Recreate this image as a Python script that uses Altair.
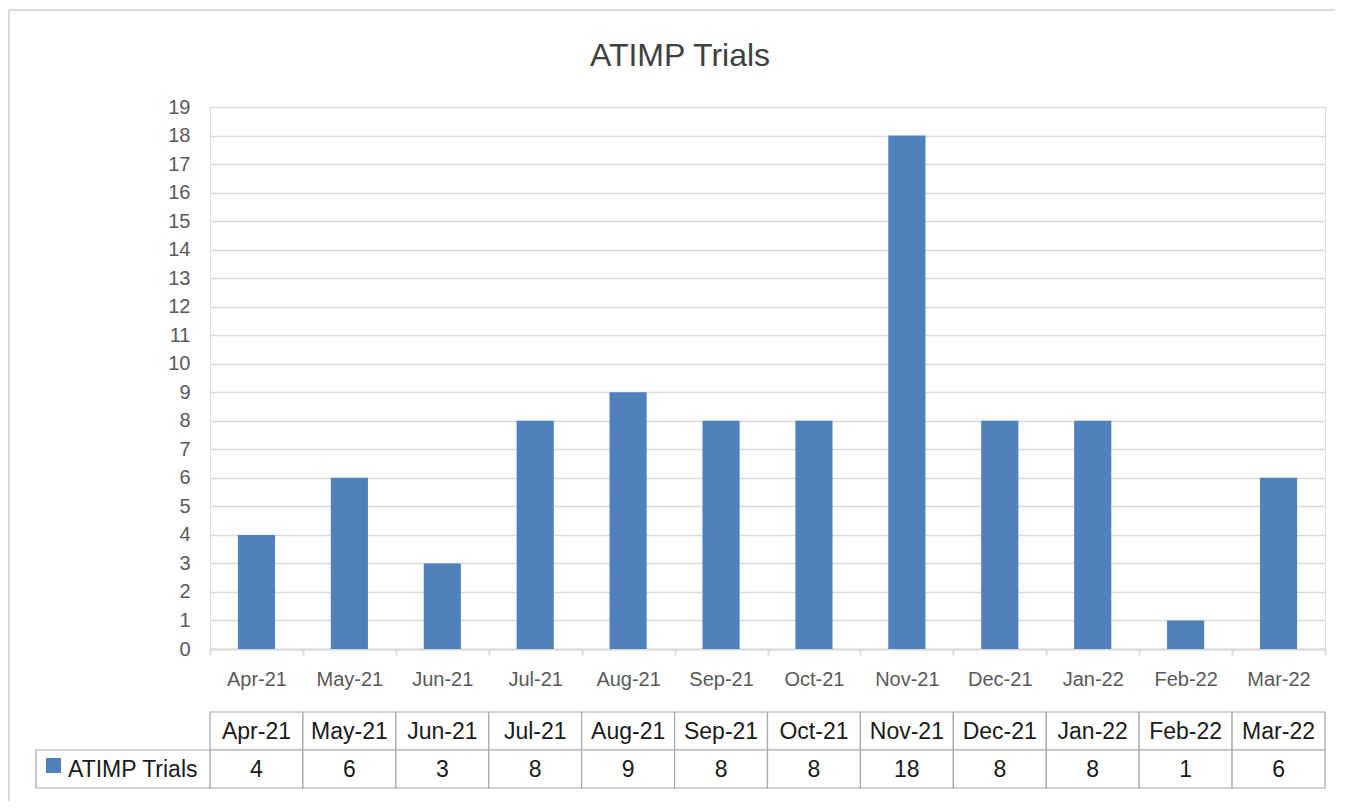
import altair as alt
import pandas as pd

# ---- data ----
MONTHS = ["Apr-21", "May-21", "Jun-21", "Jul-21", "Aug-21", "Sep-21",
          "Oct-21", "Nov-21", "Dec-21", "Jan-22", "Feb-22", "Mar-22"]
VALUES = [4, 6, 3, 8, 9, 8, 8, 18, 8, 8, 1, 6]
SERIES = "ATIMP Trials"
TITLE = "ATIMP Trials"
Y_TICKS = list(range(0, 20))

df = pd.DataFrame({"Month": MONTHS, "Value": VALUES})
df_series = pd.DataFrame({"Series": [SERIES], "Title": [TITLE]})

# ---- layout constants ----
W, H = 1115, 542
PAD_L, PAD_T, PAD_R, PAD_B = 202, 99, 10, 152
FONT = "Liberation Sans"
BAR = "#4f81bd"
GRID = "#d9d9d9"
TXT = "#595959"
TBL = "#a6a6a6"
TBL_FS = 23

HDR_TOP, HDR_BOT, VAL_BOT = 605, 643, 681
LEFT_CELL = -174

x_enc = alt.X("Month:N", sort=MONTHS,
              scale=alt.Scale(paddingInner=0, paddingOuter=0),
              axis=alt.Axis(title=None, labelAngle=0, tickBand="extent",
                            labelFont=FONT, labelFontSize=20, labelColor=TXT,
                            labelPadding=14, domainColor=GRID, domainWidth=2,
                            tickColor=GRID, tickWidth=2, tickSize=6, grid=False))

bars = alt.Chart(df).mark_bar(color=BAR, width=alt.RelativeBandSize(0.4)).encode(
    x=x_enc,
    y=alt.Y("Value:Q", scale=alt.Scale(domain=[0, 19], nice=False),
            axis=alt.Axis(title=None, values=Y_TICKS, ticks=False, domain=False,
                          labelFont=FONT, labelFontSize=20, labelColor=TXT,
                          labelPadding=20, gridColor=GRID, gridWidth=1.5)),
)

# table: header cells
hdr_cells = alt.Chart(df).mark_rect(fill="white", stroke=TBL, strokeWidth=1.2).encode(
    x=alt.X("Month:N", sort=MONTHS),
    y=alt.value(HDR_TOP), y2=alt.value(HDR_BOT),
)
val_cells = alt.Chart(df).mark_rect(fill="white", stroke=TBL, strokeWidth=1.2).encode(
    x=alt.X("Month:N", sort=MONTHS),
    y=alt.value(HDR_BOT), y2=alt.value(VAL_BOT),
)
hdr_text = alt.Chart(df).mark_text(font=FONT, fontSize=TBL_FS, color="#1a1a1a",
                                   baseline="middle").encode(
    x=alt.X("Month:N", sort=MONTHS),
    y=alt.value((HDR_TOP + HDR_BOT) / 2 + 1),
    text="Month:N",
)
val_text = alt.Chart(df).mark_text(font=FONT, fontSize=TBL_FS, color="#1a1a1a",
                                   baseline="middle").encode(
    x=alt.X("Month:N", sort=MONTHS),
    y=alt.value((HDR_BOT + VAL_BOT) / 2 + 1),
    text="Value:Q",
)

# left label cell
label_cell = alt.Chart(df_series).mark_rect(fill="white", stroke=TBL, strokeWidth=1.2).encode(
    x=alt.value(LEFT_CELL), x2=alt.value(0),
    y=alt.value(HDR_BOT), y2=alt.value(VAL_BOT),
)
label_square = alt.Chart(df_series).mark_rect(color=BAR).encode(
    x=alt.value(LEFT_CELL + 10), x2=alt.value(LEFT_CELL + 25),
    y=alt.value(HDR_BOT + 8), y2=alt.value(HDR_BOT + 23),
)
label_text = alt.Chart(df_series).mark_text(font=FONT, fontSize=TBL_FS, color="#1a1a1a",
                                            baseline="middle", align="left").encode(
    x=alt.value(LEFT_CELL + 32),
    y=alt.value((HDR_BOT + VAL_BOT) / 2 + 1),
    text="Series:N",
)

# chart title (drawn as a text mark, centred on the whole chart frame)
title = alt.Chart(df_series).mark_text(font=FONT, fontSize=32, color="#404040",
                                       baseline="alphabetic", align="center").encode(
    x=alt.value(470), y=alt.value(-41),
    text="Title:N",
)

# outer frame: top and left edges (right/bottom run off the picture)
frame_top = alt.Chart(df_series).mark_rule(stroke=GRID, strokeWidth=2).encode(
    x=alt.value(-PAD_L + 1), x2=alt.value(W + PAD_R),
    y=alt.value(-PAD_T + 2),
)
frame_left = alt.Chart(df_series).mark_rule(stroke=GRID, strokeWidth=2).encode(
    x=alt.value(-PAD_L + 1),
    y=alt.value(-PAD_T + 2), y2=alt.value(H + PAD_B),
)

chart = alt.layer(
    frame_top, frame_left, title, bars, hdr_cells, val_cells, hdr_text, val_text,
    label_cell, label_square, label_text,
).properties(
    width=W, height=H,
    autosize=alt.AutoSizeParams(type="none"),
    padding={"left": PAD_L, "top": PAD_T, "right": PAD_R, "bottom": PAD_B},
).configure_view(stroke=None).configure(background="white")

chart.save("out.html", embed_options={"renderer": "svg", "actions": False})
